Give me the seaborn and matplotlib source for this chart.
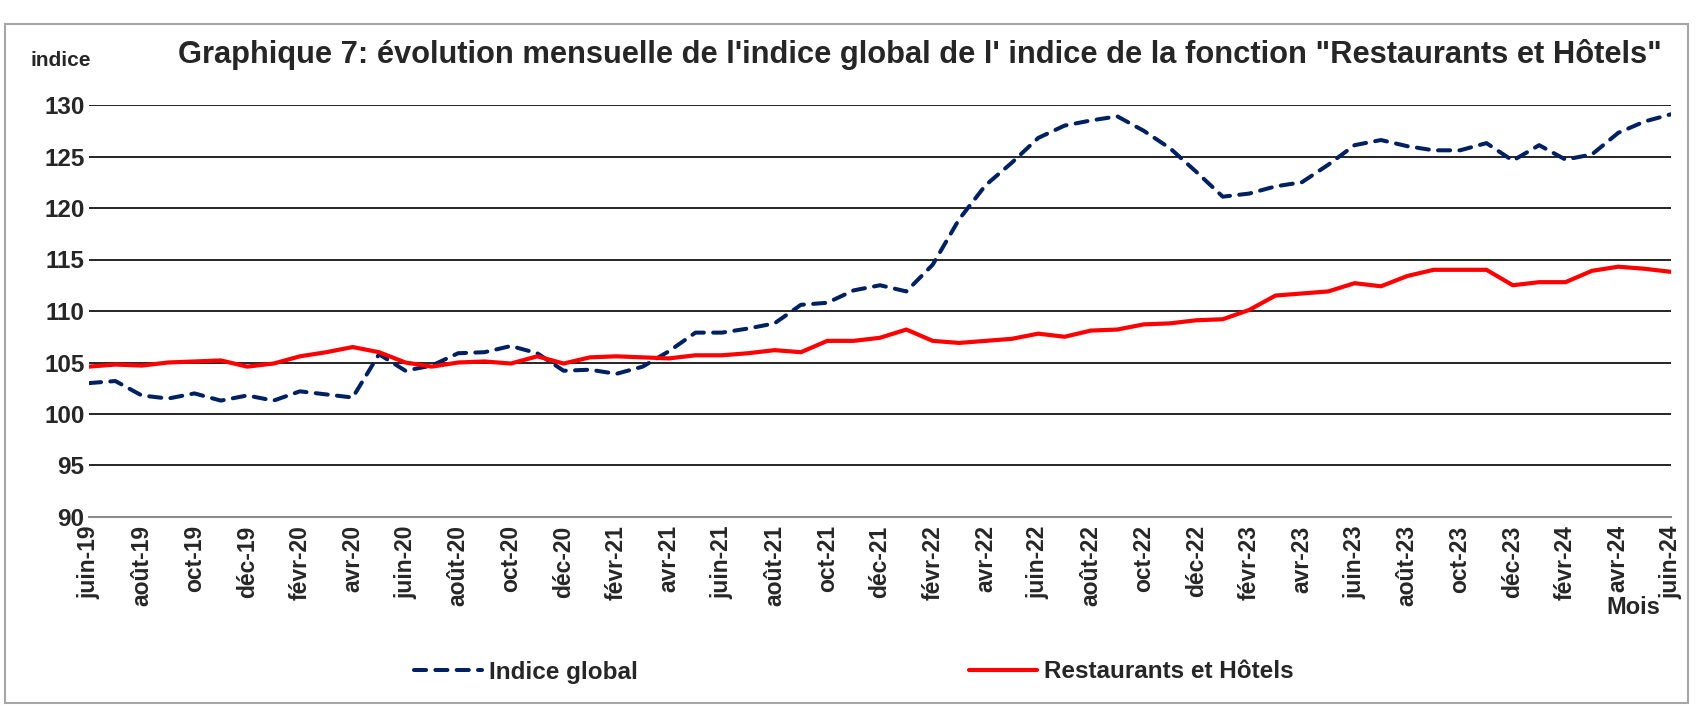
import matplotlib
matplotlib.use("Agg")
import matplotlib.pyplot as plt
import matplotlib.patches as patches
import pandas as pd
import seaborn as sns

mois_fr = ["janv", "févr", "mars", "avr", "mai", "juin", "juil", "août", "sept", "oct", "nov", "déc"]
mois = [f"{mois_fr[(5 + i) % 12]}-{19 + (5 + i) // 12}" for i in range(61)]

indice_global = [
    103.0, 103.2, 101.8, 101.5, 102.0, 101.3, 101.8, 101.3, 102.2, 101.9, 101.6,
    105.8, 104.2, 104.7, 105.9, 106.0, 106.6, 105.9, 104.2, 104.3, 103.9, 104.6,
    106.1, 107.9, 107.9, 108.3, 108.8, 110.6, 110.8, 112.0, 112.5, 111.9, 114.5,
    118.9, 122.2, 124.4, 126.8, 128.0, 128.5, 128.9, 127.5, 125.8, 123.5, 121.1,
    121.4, 122.1, 122.5, 124.2, 126.1, 126.6, 126.0, 125.6, 125.6, 126.3, 124.6,
    126.1, 124.7, 125.2, 127.3, 128.4, 129.1,
]
restaurants_hotels = [
    104.6, 104.8, 104.7, 105.0, 105.1, 105.2, 104.6, 104.9, 105.6, 106.0, 106.5,
    106.0, 105.0, 104.6, 105.0, 105.1, 104.9, 105.6, 104.9, 105.5, 105.6, 105.5,
    105.4, 105.7, 105.7, 105.9, 106.2, 106.0, 107.1, 107.1, 107.4, 108.2, 107.1,
    106.9, 107.1, 107.3, 107.8, 107.5, 108.1, 108.2, 108.7, 108.8, 109.1, 109.2,
    110.1, 111.5, 111.7, 111.9, 112.7, 112.4, 113.4, 114.0, 114.0, 114.0, 112.5,
    112.8, 112.8, 113.9, 114.3, 114.1, 113.8,
]
y_ticks = [90, 95, 100, 105, 110, 115, 120, 125, 130]

df = pd.DataFrame({"pos": range(len(mois)), "mois": mois,
                   "Indice global": indice_global,
                   "Restaurants et Hôtels": restaurants_hotels})

sns.set_style("white")
plt.rcParams["font.family"] = ["Liberation Sans", "DejaVu Sans"]

fig = plt.figure(figsize=(17.01, 7.07), dpi=100)
ax = fig.add_axes([89 / 1701, 1 - 517 / 707, (1671 - 89) / 1701, (517 - 105) / 707])

sns.lineplot(data=df, x="pos", y="Indice global", ax=ax, color="#002060", lw=2.9,
             dashes=False, label="Indice global")
ax.lines[-1].set_dashes((3.0, 2.3))
ax.lines[-1].set_dash_capstyle("round")
sns.lineplot(data=df, x="pos", y="Restaurants et Hôtels", ax=ax, color="#FF0000", lw=3.0,
             label="Restaurants et Hôtels")

ax.set_xlim(0, len(mois) - 1)
ax.set_ylim(90, 130)
ax.set_yticks(y_ticks)
ax.set_yticklabels([str(v) for v in y_ticks], fontsize=17.5, fontweight="bold")
ax.set_xticks(range(0, len(mois), 2))
ax.set_xticklabels(mois[::2], rotation=90, fontsize=16.5, fontweight="bold")
ax.tick_params(axis="y", length=0, pad=3.2)
ax.tick_params(axis="x", length=0, pad=6)
ax.set_xlabel("")
ax.set_ylabel("")
ax.yaxis.grid(True, color="black", lw=1.2)
ax.set_axisbelow(True)
for side in ["top", "right", "left"]:
    ax.spines[side].set_visible(False)
ax.spines["bottom"].set_color("#8C8C8C")
ax.spines["bottom"].set_linewidth(1.5)

fig.text(920 / 1701, 1 - 54 / 707,
         "Graphique 7: évolution mensuelle de l'indice global de l' indice de la fonction \"Restaurants et Hôtels\"",
         ha="center", va="center", fontsize=22.2, fontweight="bold")
fig.text(30 / 1701, 1 - 60 / 707, "indice", ha="left", va="center", fontsize=15, fontweight="bold")
fig.text(1633 / 1701, 1 - 607 / 707, "Mois", ha="center", va="center", fontsize=17, fontweight="bold")

ax.legend(loc="center", bbox_to_anchor=(854 / 1701, 1 - 672 / 707), bbox_transform=fig.transFigure,
          ncol=2, frameon=False, handlelength=2.8, columnspacing=13.6, handletextpad=0.31,
          prop={"size": 17.5, "weight": "bold"})

fig.patches.append(patches.Rectangle((5 / 1701, 4 / 707), 1683 / 1701, 679 / 707,
                                     transform=fig.transFigure, fill=False,
                                     ec="#A6A6A6", lw=1.5))

fig.savefig("out.png", dpi=100)
